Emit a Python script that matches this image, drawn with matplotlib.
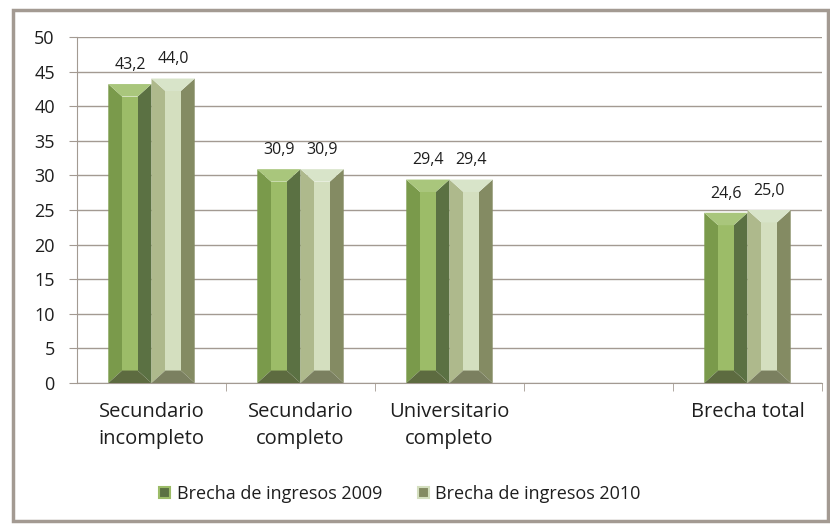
import matplotlib
matplotlib.use("Agg")
import matplotlib.pyplot as plt
from matplotlib.patches import Polygon, Rectangle, Patch

categories = ["Secundario\nincompleto", "Secundario\ncompleto", "Universitario\ncompleto", "", "Brecha total"]
brecha_2009 = [43.2, 30.9, 29.4, None, 24.6]
brecha_2010 = [44.0, 30.9, 29.4, None, 25.0]
labels_2009 = ["43,2", "30,9", "29,4", "", "24,6"]
labels_2010 = ["44,0", "30,9", "29,4", "", "25,0"]
series_names = ["Brecha de ingresos 2009", "Brecha de ingresos 2010"]
yticks = [0, 5, 10, 15, 20, 25, 30, 35, 40, 45, 50]

plt.rcParams['font.family'] = ['Open Sans', 'DejaVu Sans']

# faces: left, center, right, top, bottom
pal_2009 = dict(left="#7a9a4b", center="#9cbc68", right="#5b7143", top="#a9c67c", bottom="#5d6b40")
pal_2010 = dict(left="#aeb98c", center="#d4dfbf", right="#848b63", top="#d8e4c9", bottom="#7b8060")

fig = plt.figure(figsize=(8.3, 5.25), dpi=100)
ax = fig.add_axes([77/830, 1-383/525, (822-77)/830, (383-37)/525])

grid_col = "#a39a92"
text_col = "#1e1e1e"
ax.set_xlim(-0.5, 4.5)
ax.set_ylim(0, 50)
ax.set_yticks(yticks)
ax.set_yticklabels([str(v) for v in yticks], fontsize=13, color=text_col)
ax.yaxis.grid(True, color=grid_col, linewidth=1.0)
ax.set_axisbelow(True)
for s in ["top", "right"]:
    ax.spines[s].set_visible(False)
ax.spines["left"].set_color(grid_col)
ax.spines["bottom"].set_color(grid_col)
ax.tick_params(axis="y", length=6, color=grid_col, pad=10)
ax.set_xticks(range(len(categories)))
ax.set_xticklabels(categories, fontsize=14.5, color=text_col, linespacing=1.45)
ax.tick_params(axis="x", length=0, pad=14)
ax.set_xticks([i + 0.5 for i in range(len(categories))], minor=True)
ax.tick_params(axis="x", which="minor", length=6, color=grid_col)

bw = 0.29
dy = 1.8

def bevel_bar(xc, h, pal):
    x0, x1 = xc - bw/2, xc + bw/2
    dx = bw * 0.32
    polys = [
        ([(x0, 0), (x0, h), (x0+dx, h-dy), (x0+dx, dy)], pal["left"]),
        ([(x1, 0), (x1, h), (x1-dx, h-dy), (x1-dx, dy)], pal["right"]),
        ([(x0+dx, dy), (x0+dx, h-dy), (x1-dx, h-dy), (x1-dx, dy)], pal["center"]),
        ([(x0, h), (x1, h), (x1-dx, h-dy), (x0+dx, h-dy)], pal["top"]),
        ([(x0, 0), (x1, 0), (x1-dx, dy), (x0+dx, dy)], pal["bottom"]),
    ]
    for pts, c in polys:
        ax.add_patch(Polygon(pts, closed=True, facecolor=c, edgecolor="none", zorder=3))

for i in range(len(categories)):
    for vals, labs, pal, off in [(brecha_2009, labels_2009, pal_2009, -bw/2),
                                 (brecha_2010, labels_2010, pal_2010, bw/2)]:
        v = vals[i]
        if v is None:
            continue
        bevel_bar(i + off, v, pal)
        ax.text(i + off, v + 1.6, labs[i], ha="center", va="bottom", fontsize=11.5, color=text_col, zorder=4)

handles = [Patch(facecolor=pal_2009["right"], edgecolor=pal_2009["center"], linewidth=1.5),
           Patch(facecolor=pal_2010["right"], edgecolor=pal_2010["center"], linewidth=1.5)]
fig.legend(handles, series_names, loc="center", bbox_to_anchor=(400/830, 1-494/525), ncol=2,
           frameon=False, fontsize=13, handlelength=0.6, handleheight=0.6, columnspacing=2.0,
           handletextpad=0.35, labelcolor=text_col)

fig.patches.append(Rectangle((13/830, 1-521/525), (828-13)/830, (521-10)/525, transform=fig.transFigure,
                             fill=False, edgecolor="#a39a92", linewidth=2.5))

fig.savefig("out.png", dpi=100)
